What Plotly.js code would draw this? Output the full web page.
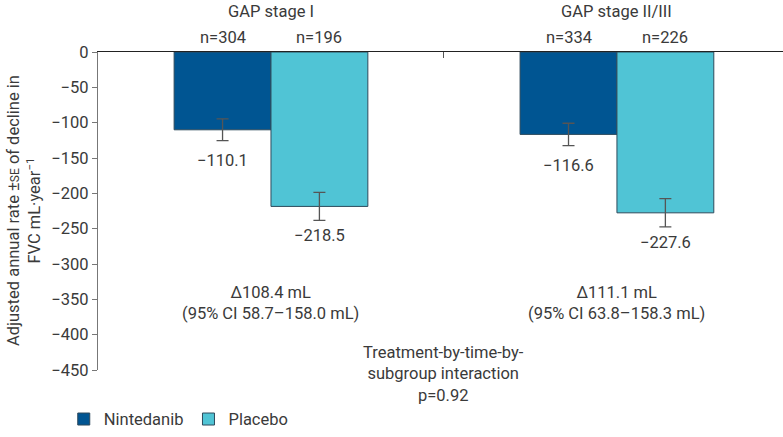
<!DOCTYPE html>
<html>
<head>
<meta charset="utf-8">
<script src="https://cdn.plot.ly/plotly-3.0.1.min.js"></script>
<style>html,body{margin:0;padding:0;background:#fff;}#chart{width:783px;height:437px;}</style>
</head>
<body>
<div id="chart"></div>
<script>
// Data
const groups = ["GAP stage I", "GAP stage II/III"];
const groupX = [0, 1];
const nintedanibValues = [-110.1, -116.6];
const nintedanibSE = [15.4, 15.8];
const nintedanibN = ["n=304", "n=334"];
const placeboValues = [-218.5, -227.6];
const placeboSE = [19.8, 20.0];
const placeboN = ["n=196", "n=226"];
const deltaText = ["Δ108.4 mL<br>(95% CI 58.7–158.0 mL)", "Δ111.1 mL<br>(95% CI 63.8–158.3 mL)"];
const interactionText = "Treatment-by-time-by-<br>subgroup interaction<br>p=0.92";
const yTicks = [0, -50, -100, -150, -200, -250, -300, -350, -400, -450];

const FONT = "Roboto, 'DejaVu Sans', sans-serif";
const TXT = "#3a3a3a";
const FS = 16.5;
const OFF = 0.14;

const traces = [
  {
    type: "bar", name: "Nintedanib", x: groupX, y: nintedanibValues,
    marker: {color: "#005592", line: {color: "#2e4a5c", width: 1}},
    error_y: {type: "data", array: nintedanibSE, visible: true, color: "#555", thickness: 1.3, width: 6},
    hoverinfo: "none"
  },
  {
    type: "bar", name: "Placebo", x: groupX, y: placeboValues,
    marker: {color: "#50c4d5", line: {color: "#2e4a5c", width: 1}},
    error_y: {type: "data", array: placeboSE, visible: true, color: "#555", thickness: 1.3, width: 6},
    hoverinfo: "none"
  }
];

const f = {size: FS, color: TXT, family: FONT};
const annotations = [];
groupX.forEach((gx, i) => {
  annotations.push({x: gx, y: 1, xref: "x", yref: "paper", yanchor: "bottom", yshift: 29, text: groups[i], showarrow: false, font: f});
  annotations.push({x: gx - OFF, y: 1, xref: "x", yref: "paper", yanchor: "bottom", yshift: 3, text: nintedanibN[i], showarrow: false, font: f});
  annotations.push({x: gx + OFF, y: 1, xref: "x", yref: "paper", yanchor: "bottom", yshift: 3, text: placeboN[i], showarrow: false, font: f});
  annotations.push({x: gx - OFF, y: nintedanibValues[i] - nintedanibSE[i], xref: "x", yref: "y", yanchor: "top", yshift: -8, text: "−" + Math.abs(nintedanibValues[i]).toFixed(1), showarrow: false, font: f});
  annotations.push({x: gx + OFF, y: placeboValues[i] - placeboSE[i], xref: "x", yref: "y", yanchor: "top", yshift: -4, text: "−" + Math.abs(placeboValues[i]).toFixed(1), showarrow: false, font: f});
  annotations.push({x: gx, y: -355, xref: "x", yref: "y", text: deltaText[i], showarrow: false, font: f});
});
annotations.push({x: 0.5, y: -0.014, xref: "x", yref: "paper", yanchor: "middle", text: interactionText, showarrow: false, font: f});
annotations.push({x: -0.108, y: 0.5, xref: "paper", yref: "paper", xanchor: "center", yanchor: "middle", textangle: -90, text: "Adjusted annual rate ±<span style='font-size:12px'>SE</span> of decline in<br>FVC mL·year<sup>−1</sup>", showarrow: false, font: {size: FS, color: TXT, family: FONT}});

const layout = {
  width: 783, height: 437,
  margin: {l: 98, r: 0, t: 52, b: 59},
  paper_bgcolor: "#fff", plot_bgcolor: "#fff",
  barmode: "group", bargap: 0.44, bargroupgap: 0,
  showlegend: true,
  legend: {orientation: "h", x: -0.05, y: -0.1, xanchor: "left", yanchor: "top", font: f, itemwidth: 30, traceorder: "normal"},
  xaxis: {
    type: "linear", range: [-0.5, 1.48], side: "top",
    showline: true, linecolor: "#222", linewidth: 1.2,
    tickmode: "array", tickvals: [-0.5, 0.5, 1.5], showticklabels: false,
    ticks: "inside", ticklen: 6, tickcolor: "#555", showgrid: false, zeroline: false, fixedrange: true
  },
  yaxis: {
    range: [-450, 0], showline: true, linecolor: "#777", linewidth: 1.2,
    tickmode: "array", tickvals: yTicks, ticktext: yTicks.map(v => v === 0 ? "0" : "−" + Math.abs(v)),
    ticks: "outside", ticklen: 5, tickcolor: "#777", showgrid: false, zeroline: false,
    tickfont: f
  },
  annotations: annotations
};

Plotly.newPlot("chart", traces, layout, {displayModeBar: false, staticPlot: true});
</script>
</body>
</html>
